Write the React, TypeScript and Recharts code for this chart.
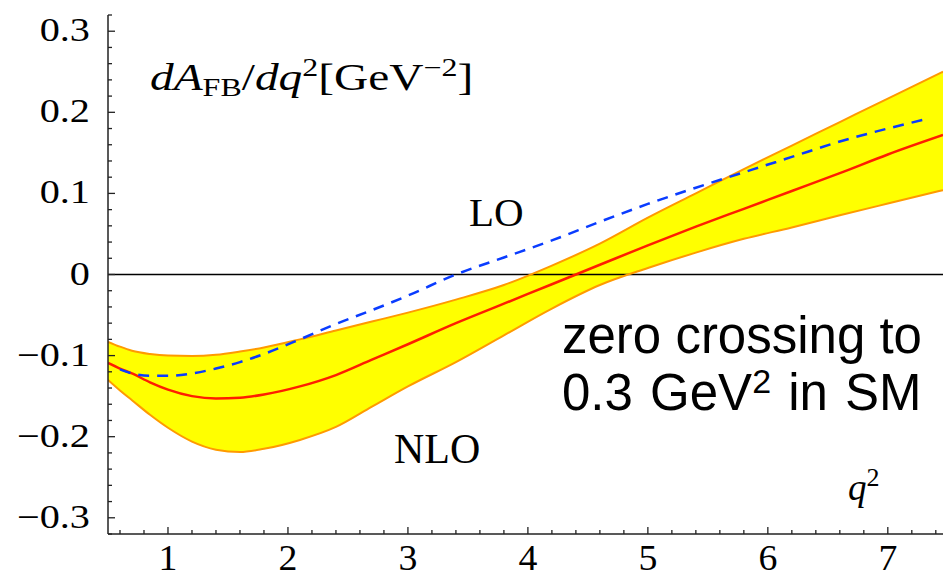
import React from 'react';
import { ComposedChart, Area, Line, XAxis, YAxis, ReferenceLine } from 'recharts';

// q^2 grid for the NLO band and central curve
const qGrid = [0.5, 0.6, 0.7, 0.85, 1.0, 1.2, 1.4, 1.6, 1.8, 2.1, 2.4, 2.7, 3.0, 3.4, 3.8, 4.2, 4.6, 5.0, 5.4, 5.8, 6.2, 6.6, 7.0, 7.46];
const nloCentral = [-0.109, -0.116, -0.122, -0.133, -0.142, -0.150, -0.153, -0.152, -0.148, -0.138, -0.124, -0.105, -0.086, -0.060, -0.036, -0.012, 0.012, 0.036, 0.059, 0.081, 0.103, 0.125, 0.148, 0.172];
const nloUpper = [-0.083, -0.089, -0.094, -0.098, -0.100, -0.1005, -0.099, -0.095, -0.090, -0.080, -0.069, -0.058, -0.047, -0.031, -0.013, 0.011, 0.038, 0.070, 0.100, 0.130, 0.159, 0.188, 0.217, 0.250];
const nloLower = [-0.130, -0.143, -0.155, -0.173, -0.189, -0.206, -0.216, -0.219, -0.215, -0.204, -0.188, -0.163, -0.138, -0.108, -0.075, -0.042, -0.013, 0.008, 0.027, 0.044, 0.058, 0.073, 0.0875, 0.104];

// LO curve
const loQ = [0.6, 0.7, 0.85, 1.0, 1.2, 1.4, 1.6, 1.8, 2.1, 2.4, 2.7, 3.0, 3.4, 3.8, 4.2, 4.6, 5.0, 5.4, 5.8, 6.2, 6.6, 7.0, 7.34];
const loValues = [-0.117, -0.122, -0.125, -0.125, -0.122, -0.116, -0.108, -0.098, -0.080, -0.061, -0.044, -0.026, 0.0, 0.021, 0.042, 0.065, 0.087, 0.107, 0.126, 0.145, 0.164, 0.180, 0.1923];

// tick labels / positions
const xMajorTicks = [1, 2, 3, 4, 5, 6, 7];
const yMajorTicks = [-0.3, -0.2, -0.1, 0, 0.1, 0.2, 0.3];
const xDomain = [0.5, 7.46];
const yDomain = [-0.32, 0.32];

const xAllTicks: number[] = [];
for (let i = 3; i <= 37; i++) xAllTicks.push(Math.round(i * 0.2 * 100) / 100);
const yAllTicks: number[] = [];
for (let i = -16; i <= 16; i++) yAllTicks.push(Math.round(i * 0.02 * 1000) / 1000);

const nloData = qGrid.map((q, i) => ({
  q,
  mid: nloCentral[i],
  hi: nloUpper[i],
  lo: nloLower[i],
  band: [nloLower[i], nloUpper[i]],
}));
const loData = loQ.map((q, i) => ({ q, lo0: loValues[i] }));

const AXIS = '#222';
const SERIF = '"Liberation Serif", "Times New Roman", serif';
const SANS = '"Liberation Sans", Arial, sans-serif';

const isMajorX = (v: number) => xMajorTicks.some((t) => Math.abs(t - v) < 1e-6);
const isMajorY = (v: number) => yMajorTicks.some((t) => Math.abs(t - v) < 1e-6);
const fmtY = (v: number) => {
  if (Math.abs(v) < 1e-9) return '0';
  const s = Math.abs(v).toFixed(1);
  return v < 0 ? '\u2212' + s : s;
};

const BottomTick = (props: any) => {
  const { x, y, payload } = props;
  const v = payload.value;
  const major = isMajorX(v);
  return (
    <g>
      <line x1={x} x2={x} y1={y} y2={y - (major ? 7 : 4)} stroke={AXIS} strokeWidth={1.3} />
      {major && (
        <text
          transform={`translate(${x},${y + 36}) scale(1.08,1)`}
          textAnchor="middle"
          fontFamily={SERIF}
          fontSize={35}
          fill="#000"
        >
          {String(v)}
        </text>
      )}
    </g>
  );
};

const TopTick = (props: any) => {
  const { x, y, payload } = props;
  const major = isMajorX(payload.value);
  return <line x1={x} x2={x} y1={y} y2={y + (major ? 7 : 4)} stroke={AXIS} strokeWidth={1.3} />;
};

const LeftTick = (props: any) => {
  const { x, y, payload } = props;
  const v = payload.value;
  const major = isMajorY(v);
  return (
    <g>
      <line x1={x} x2={x + (major ? 7 : 4)} y1={y} y2={y} stroke={AXIS} strokeWidth={1.3} />
      {major && (
        <text
          transform={`translate(${x - 18},${y + 10}) scale(1.22,1)`}
          textAnchor="end"
          fontFamily={SERIF}
          fontSize={33}
          fill="#000"
        >
          {fmtY(v)}
        </text>
      )}
    </g>
  );
};

export default function App() {
  return (
    <div style={{ position: 'absolute', left: 0, top: 0, width: 943, height: 578, background: '#fff', overflow: 'hidden' }}>
      <ComposedChart width={943} height={578} data={nloData} margin={{ top: 15, right: 0, bottom: 0, left: 0 }}>
        <XAxis
          dataKey="q"
          type="number"
          domain={xDomain}
          allowDataOverflow
          ticks={xAllTicks}
          interval={0}
          height={44}
          tickSize={0}
          tickMargin={0}
          tickLine={false}
          tick={<BottomTick />}
          axisLine={{ stroke: AXIS, strokeWidth: 1.5 }}
        />
        <XAxis
          xAxisId="top"
          orientation="top"
          dataKey="q"
          type="number"
          domain={xDomain}
          allowDataOverflow
          ticks={xAllTicks}
          interval={0}
          height={0}
          tickSize={0}
          tickMargin={0}
          tickLine={false}
          tick={<TopTick />}
          axisLine={{ stroke: AXIS, strokeWidth: 1.5 }}
        />
        <YAxis
          type="number"
          domain={yDomain}
          allowDataOverflow
          ticks={yAllTicks}
          interval={0}
          width={108}
          tickSize={0}
          tickMargin={0}
          tickLine={false}
          tick={<LeftTick />}
          axisLine={{ stroke: AXIS, strokeWidth: 1.5 }}
        />
        <Area
          dataKey="band"
          type="monotone"
          fill="#FFFF00"
          fillOpacity={1}
          stroke="none"
          isAnimationActive={false}
          activeDot={false}
        />
        <ReferenceLine y={0} stroke="#000" strokeWidth={1.3} />
        <Line dataKey="hi" type="monotone" stroke="#FF9A00" strokeWidth={2} dot={false} isAnimationActive={false} />
        <Line dataKey="lo" type="monotone" stroke="#FF9A00" strokeWidth={2} dot={false} isAnimationActive={false} />
        <Line dataKey="mid" type="monotone" stroke="#FF1E00" strokeWidth={2.5} dot={false} isAnimationActive={false} />
        <Line
          data={loData}
          dataKey="lo0"
          type="monotone"
          stroke="#0A3CFF"
          strokeWidth={2.5}
          strokeDasharray="11 8"
          dot={false}
          isAnimationActive={false}
        />
      </ComposedChart>
      <svg width={943} height={578} style={{ position: 'absolute', left: 0, top: 0, pointerEvents: 'none' }}>
        <text transform="translate(150,90) scale(1.28,1)" fontFamily={SERIF} fontSize={37} fill="#000">
          <tspan fontStyle="italic">dA</tspan>
          <tspan fontSize={25} dy={6}>FB</tspan>
          <tspan dy={-6}>/</tspan>
          <tspan fontStyle="italic">dq</tspan>
          <tspan fontSize={25} dy={-14}>2</tspan>
          <tspan dy={14}>[GeV</tspan>
          <tspan fontSize={25} dy={-14}>{'\u2212'}2</tspan>
          <tspan dy={14}>]</tspan>
        </text>
        <text x={469} y={226} fontFamily={SERIF} fontSize={41} fill="#000">LO</text>
        <text x={394} y={463} fontFamily={SERIF} fontSize={42} fill="#000">NLO</text>
        <text x={848} y={500} fontFamily={SERIF} fontSize={37} fontStyle="italic" fill="#000">
          q<tspan fontSize={26} fontStyle="normal" dy={-14}>2</tspan>
        </text>
        <text x={562} y={353} fontFamily={SANS} fontSize={51} fill="#000">zero crossing to</text>
        <text x={562} y={410} fontFamily={SANS} fontSize={51} wordSpacing={3} fill="#000">
          0.3 GeV<tspan fontSize={34} dy={-17}>2</tspan>
          <tspan dy={17}> in SM</tspan>
        </text>
      </svg>
    </div>
  );
}
